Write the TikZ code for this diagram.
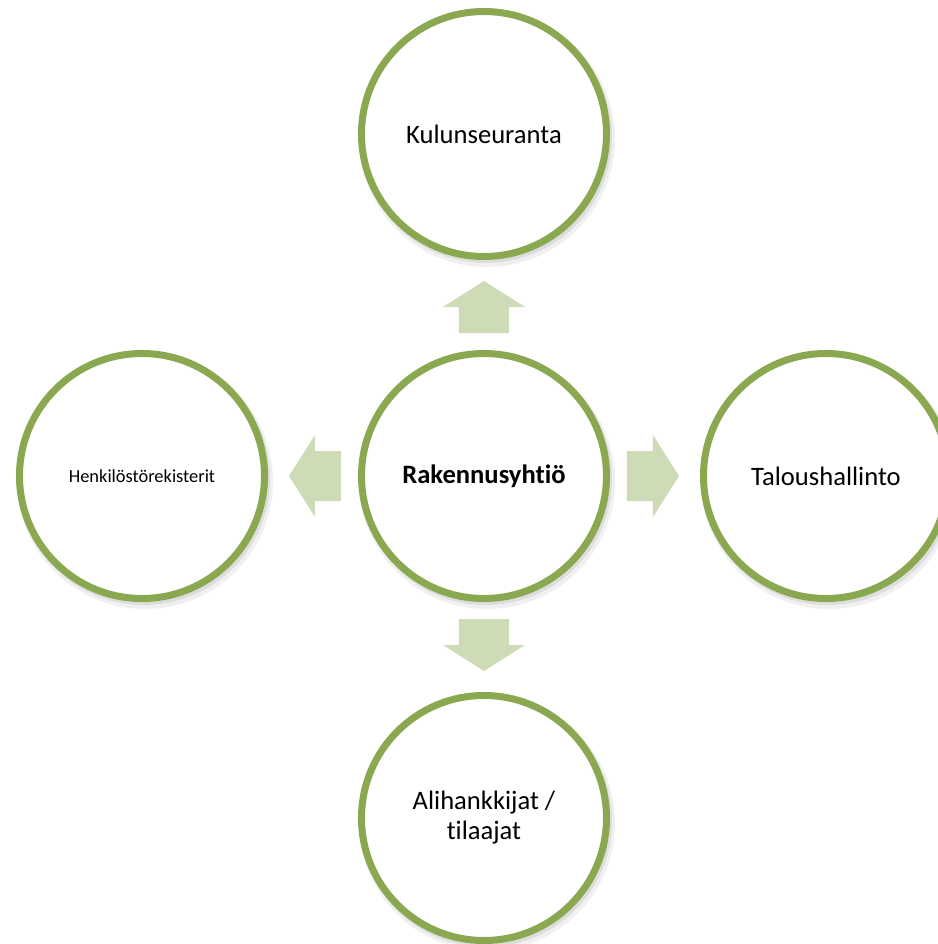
\documentclass[tikz,border=0pt]{standalone}
\usepackage{fontspec}
\setmainfont{Carlito}[Ligatures=NoCommon]
\usetikzlibrary{positioning,backgrounds}
\definecolor{ringgreen}{RGB}{138,168,80}
\definecolor{flowgreen}{RGB}{205,219,182}
\tikzset{ring/.style={circle, draw=ringgreen, line width=3.5pt, fill=white,
  minimum size=122.5pt, inner sep=0pt, align=center,
  font=\fontsize{13.3}{15}\selectfont},
%smaller text for the left circle
small/.style={font=\fontsize{9.2}{11}\selectfont},
flow/.style={fill=flowgreen, draw=none}}

\begin{document}
\begin{tikzpicture}[x=0.5pt, y=0.5pt, node distance=45pt]

\useasboundingbox (-484,-468) rectangle (454,476);

\node[ring] (hub) at (0,0) {\textbf{Rakennusyhtiö}};
\node[ring, above=of hub] (kulu) {Kulunseuranta};
\node[ring, right=of hub] (talous) {Taloushallinto};
\node[ring, small, left=of hub] (henk) {Henkilöstörekisterit};
\node[ring, below=of hub] (ali) {Alihankkijat /\\ tilaajat};

\begin{scope}[on background layer]
\foreach \n in {hub,kulu,talous,henk,ali} {
    \fill[black, opacity=0.06] ([shift={(3,-5)}]\n.center) circle (128);
    \fill[black, opacity=0.08] ([shift={(2,-3)}]\n.center) circle (126);
}
\end{scope}

\foreach \a in {0,90,180,270}
    \fill[flow, rotate=\a] (143,-25) -- (169,-25) -- (169,-41) -- (195,0)
        -- (169,41) -- (169,25) -- (143,25) -- cycle;

\end{tikzpicture}
\end{document}
